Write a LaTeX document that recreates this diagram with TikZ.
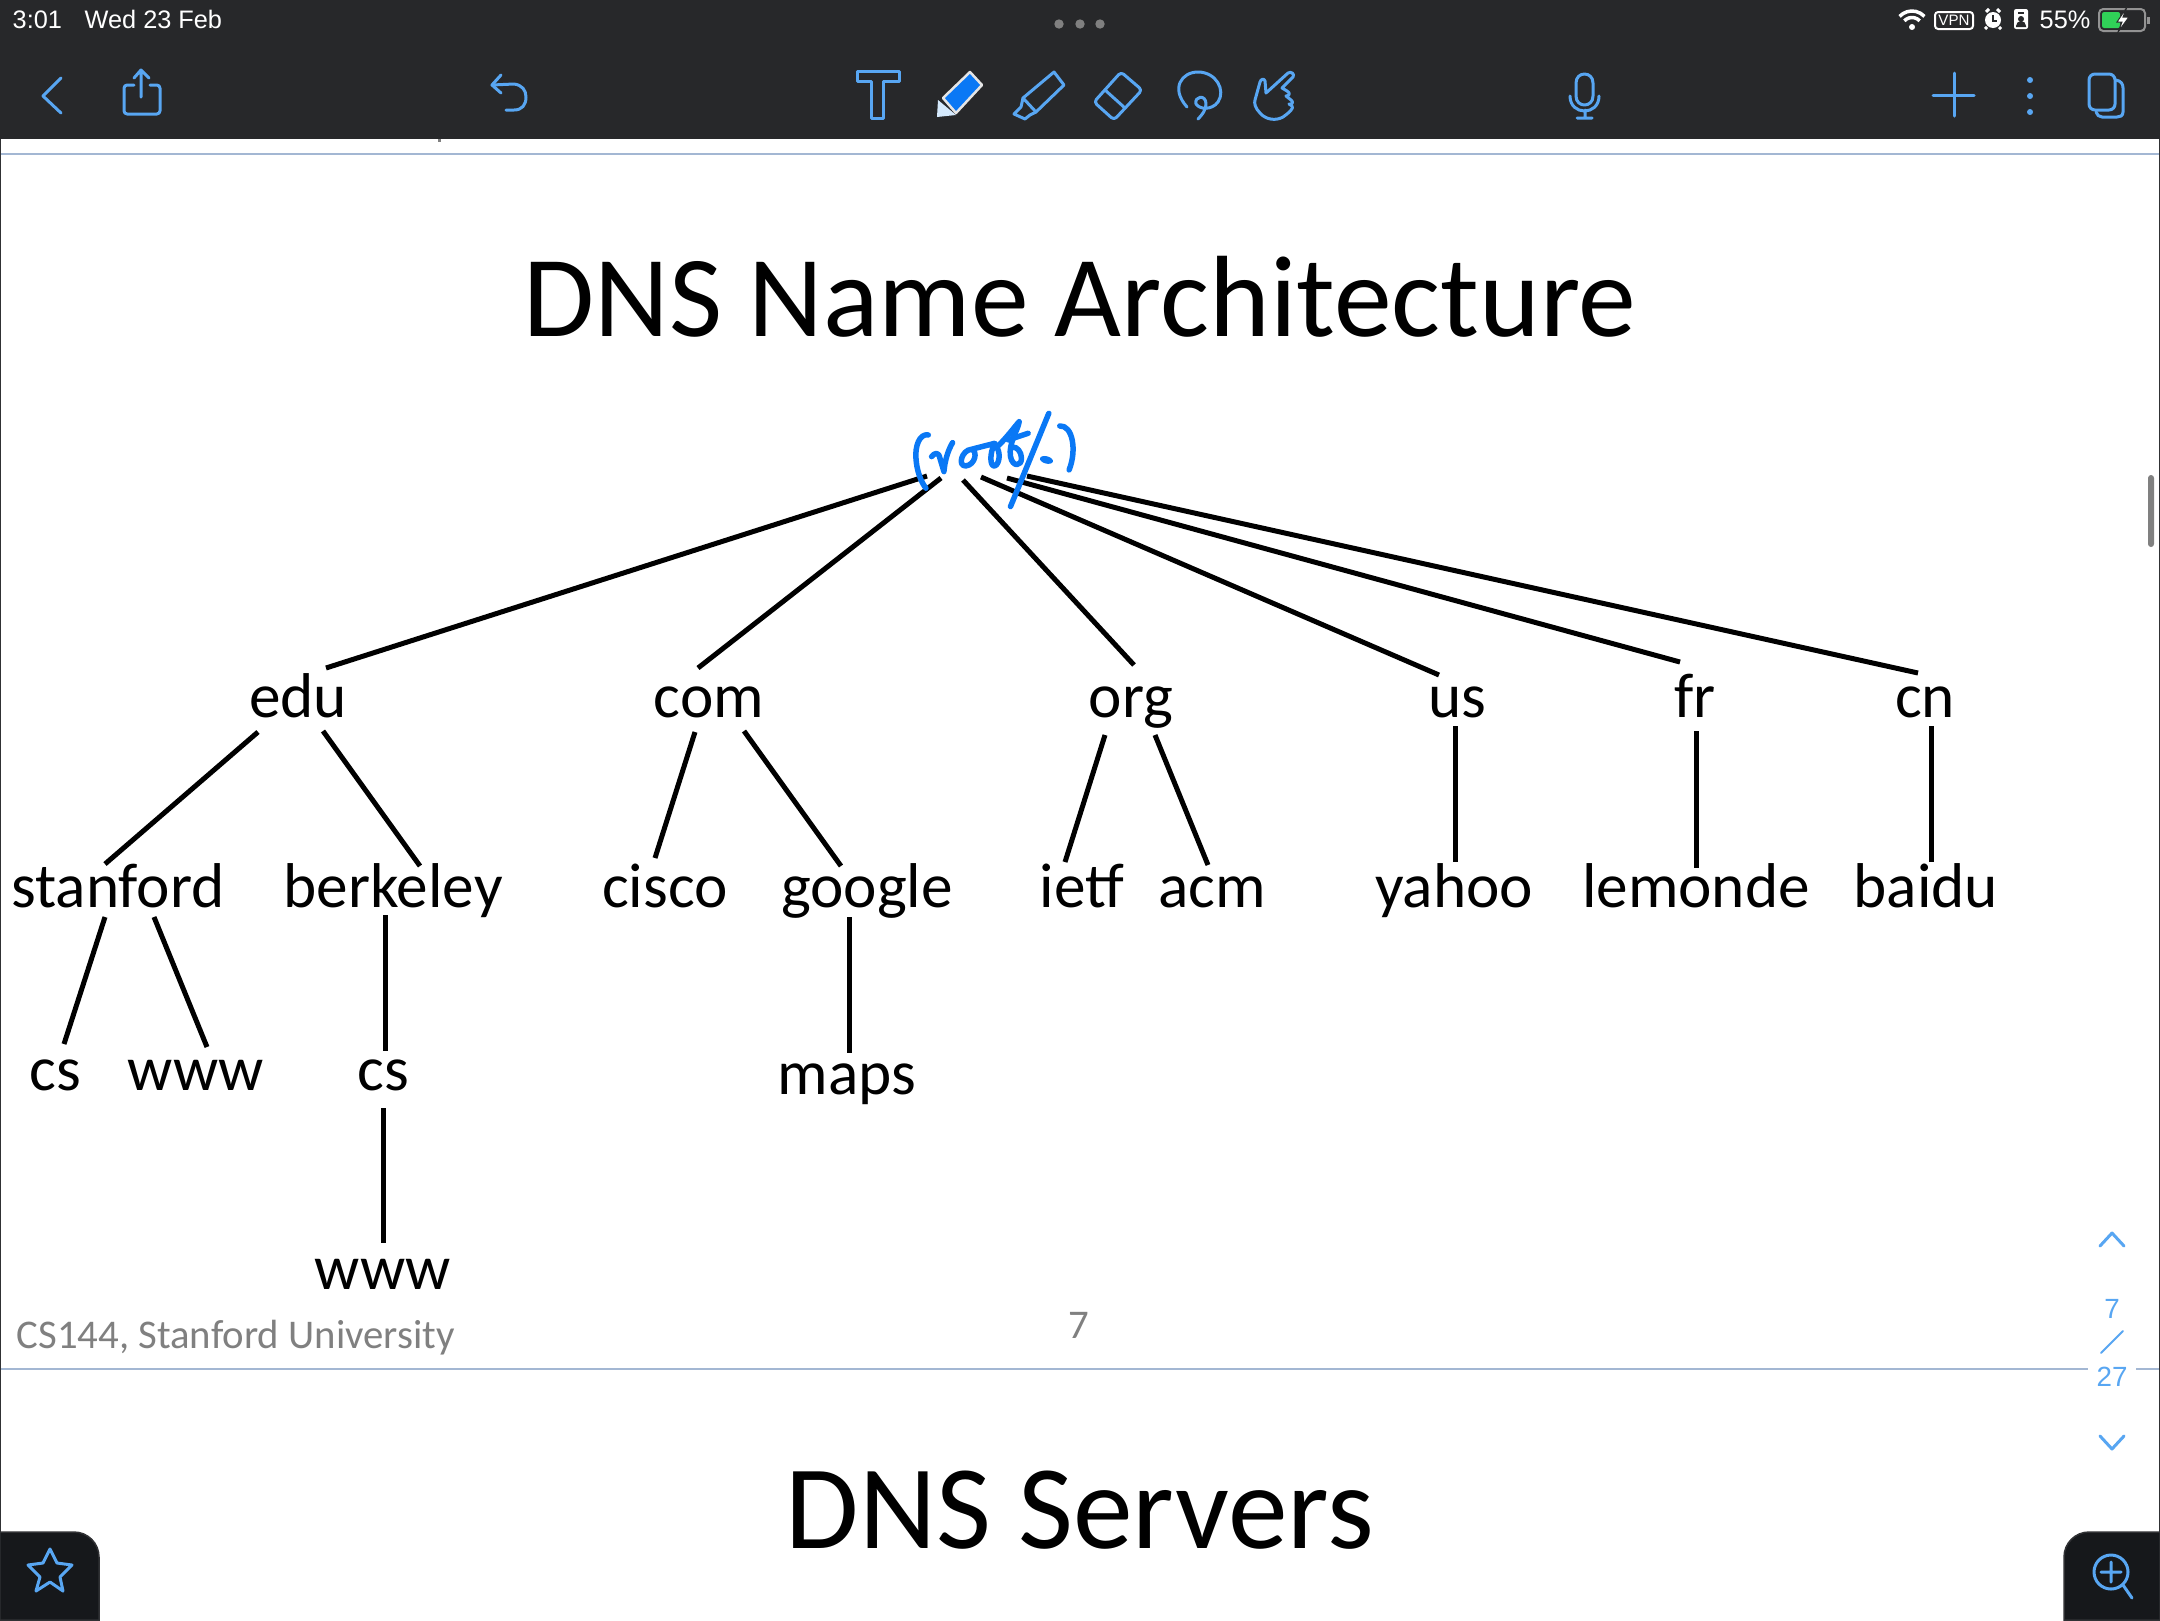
\documentclass[tikz,border=0pt]{standalone}
\usepackage{fontspec}
\setmainfont{Carlito}
\newfontfamily\uifont{Liberation Sans}
\definecolor{barDark}{HTML}{27282A}
\definecolor{panelDark}{HTML}{16181B}
\definecolor{panelEdge}{HTML}{303134}
\definecolor{toolBlue}{HTML}{58A6F2}
\definecolor{inkBlue}{HTML}{0A78F5}
\definecolor{pageRule}{HTML}{A3B7D3}
\definecolor{footGrey}{HTML}{808080}
\definecolor{battGreen}{HTML}{30D158}
\tikzstyle{zone}=[anchor=base,inner sep=0pt,font=\fontsize{18}{22}\selectfont]
\tikzstyle{heading}=[anchor=base,inner sep=0pt,font=\fontsize{32.9}{40}\selectfont]
\tikzstyle{foot}=[anchor=base,inner sep=0pt,text=footGrey,font=\fontsize{11.6}{14}\selectfont]
\tikzstyle{status}=[anchor=base west,inner sep=0pt,text=white,font=\uifont\fontsize{7.2}{9}\selectfont]
\tikzstyle{pageno}=[anchor=base,inner sep=0pt,text=toolBlue,font=\uifont\fontsize{7.9}{9}\selectfont]
\tikzstyle{link}=[draw,black,line width=0.5mm]
\tikzstyle{tool}=[draw=toolBlue,line width=0.3mm,line cap=round,line join=round]
\tikzstyle{ink}=[draw=inkBlue,line width=0.55mm,line cap=round,line join=round]
\begin{document}
\begin{tikzpicture}[x=0.1mm,y=-0.1mm]
	\useasboundingbox (0,0) rectangle (2160,1620);
	\fill[white] (0,0) rectangle (2160,1620);

	% app bars
	\fill[barDark] (0,0) rectangle (2160,139);
	\draw[pageRule,line width=0.2mm] (0,154) -- (2160,154);
	\draw[pageRule,line width=0.2mm] (0,1369) -- (2088,1369);
	\draw[pageRule,line width=0.2mm] (2136,1369) -- (2160,1369);
	\draw[panelEdge,line width=0.15mm] (0.7,139) -- (0.7,1532);
	\draw[panelEdge,line width=0.15mm] (2159.3,139) -- (2159.3,1532);
	\fill[footGrey] (438,139) rectangle (441,142);
	\fill[footGrey] (2148,478) -- (2148,544) arc[start angle=180,end angle=0,radius=3] -- (2154,478) arc[start angle=0,end angle=-180,radius=3] -- cycle;

	\node[status] (clock) at (12,28) {3:01};
	\node[status] (date) at (84,28) {Wed 23 Feb};
	\foreach \x in {1059,1080,1100}
		\fill[footGrey] (\x,24) circle (4.7);

	% status icons
	\foreach \r in {10.5,17}
		\draw[white,line width=0.35mm] ([shift={(223:\r)}]1912,28) arc[start angle=223,end angle=317,radius=\r];
	\fill[white] (1912,27) circle (3);
	\draw[white,line width=0.2mm,rounded corners=0.9pt] (1935,12) rectangle (1973,29);
	\node[inner sep=0pt,text=white,font=\uifont\fontsize{4.3}{5}\selectfont] (vpn) at (1954,20.5) {VPN};
	\fill[white] (1993,20) circle (8);
	\draw[white,line width=0.3mm] (1986,12) -- (1989,9) (2000,12) -- (1997,9) (1987,27) -- (1985,29) (1999,27) -- (2001,29);
	\draw[barDark,line width=0.2mm] (1993,15) -- (1993,21) -- (1997,21);
	\fill[white,rounded corners=0.6pt] (2014,9) rectangle (2028,29);
	\fill[barDark] (2018,12) rectangle (2024,13.5);
	\fill[barDark] (2021,19) circle (3);
	\fill[barDark] (2016,27) -- (2016,26) arc[start angle=180,end angle=360,radius=5] -- (2026,27) -- cycle;
	\node[status] (charge) at (2039,28) {55\%};
	\draw[footGrey!85,line width=0.2mm,rounded corners=1.2pt] (2099,9) rectangle (2145,31);
	\fill[battGreen,rounded corners=0.6pt] (2102,12) rectangle (2120,28);
	\fill[footGrey!85] (2147,17) rectangle (2150,24);
	\draw[barDark,line width=0.1mm,fill=white] (2127,7) -- (2117,22) -- (2122,22) -- (2118,32) -- (2129,17) -- (2123,17) -- cycle;

	% toolbar
	\path[tool] (61,78) -- (43,96) -- (61,113);
	\path[tool,rounded corners=0.9pt] (134,85) -- (124,85) -- (124,114) -- (160,114) -- (160,85) -- (150,85);
	\path[tool] (141,97) -- (141,70) (134,78) -- (141,70) -- (149,78);
	\path[tool] (501,75) -- (492,85) -- (501,93);
	\path[tool] (492,85) -- (514,84) .. controls (522,85) and (526,90) .. (526,97) .. controls (526,105) and (522,110) .. (514,110) -- (506,110);
	\path[tool] (857,71) -- (899,71) -- (899,81) -- (883,81) -- (883,118) -- (871,118) -- (871,81) -- (857,81) -- cycle;
	\fill[white!75!toolBlue] (938,100) -- (937,117) -- (956,115) -- cycle;
	\draw[white!80!gray,line width=0.25mm,line join=round,fill=inkBlue] (970,72) -- (982,85) -- (956,113) -- (943,98) -- cycle;
	\path[tool] (1054,72) -- (1064,85) -- (1036,112) -- (1023,98) -- cycle;
	\path[tool] (1023,98) -- (1021,107) -- (1014,114) -- (1025,119) -- (1030,115) -- (1036,112);
	\path[tool,rounded corners=1pt] (1121,72) -- (1142,90) -- (1114,120) -- (1094,102) -- cycle;
	\path[tool] (1105,90) -- (1125,108);
	\path[tool] (1187,107) .. controls (1170,88) and (1182,72) .. (1198,72) .. controls (1216,72) and (1226,90) .. (1218,102) .. controls (1212,110) and (1200,110) .. (1196,104) .. controls (1194,96) and (1206,94) .. (1206,104) .. controls (1206,110) and (1202,115) .. (1198,119);
	\path[tool] (1266,93) -- (1288,73) .. controls (1291,71) and (1295,74) .. (1293,77) -- (1282,88) -- (1287,91) .. controls (1291,93) and (1289,96) .. (1286,96) -- (1291,100) .. controls (1294,102) and (1292,105) .. (1289,104) -- (1292,106) .. controls (1294,108) and (1290,112) .. (1283,117) .. controls (1276,121) and (1266,120) .. (1260,113) .. controls (1255,108) and (1254,103) .. (1255,100) -- (1260,82) .. controls (1261,79) and (1264,78) .. (1265,81) -- cycle;
	\path[tool] (1576,83) .. controls (1576,71) and (1593,71) .. (1593,83) -- (1593,96) .. controls (1593,108) and (1576,108) .. (1576,96) -- cycle;
	\path[tool] (1570,96) .. controls (1570,116) and (1599,116) .. (1599,96) (1585,110) -- (1585,118) (1577,118) -- (1592,118);
	\path[tool] (1954,73) -- (1954,116) (1933,95) -- (1974,95);
	\foreach \y in {80,96,112}
		\fill[toolBlue] (2030,\y) circle (3);
	\draw[toolBlue,line width=0.3mm,rounded corners=1.7pt] (2089,74) rectangle (2115,110);
	\path[tool] (2116,80) .. controls (2121,81) and (2123,84) .. (2123,88) -- (2123,112) .. controls (2123,116) and (2120,117) .. (2117,117) -- (2102,117) .. controls (2099,117) and (2097,115) .. (2096,112);

	% slide
	\node[heading] (title) at (1080,336) {DNS Name Architecture};
	\node[zone] (edu) at (298,717) {edu};
	\node[zone] (com) at (709,717) {com};
	\node[zone] (org) at (1131,717) {org};
	\node[zone] (us) at (1457,717) {us};
	\node[zone] (fr) at (1695,717) {fr};
	\node[zone] (cn) at (1925,717) {cn};
	\node[zone] (stanford) at (118,907) {stanford};
	\node[zone] (berkeley) at (393,907) {berkeley};
	\node[zone] (cisco) at (665,907) {cisco};
	\node[zone] (google) at (867,907) {google};
	\node[zone] (ietf) at (1082,907) {ietf};
	\node[zone] (acm) at (1212,907) {acm};
	\node[zone] (yahoo) at (1454,907) {yahoo};
	\node[zone] (lemonde) at (1696,907) {lemonde};
	\node[zone] (baidu) at (1926,907) {baidu};
	\node[zone] (scs) at (55,1090) {cs};
	\node[zone] (swww) at (196,1090) {www};
	\node[zone] (bcs) at (383,1090) {cs};
	\node[zone] (maps) at (847,1094) {maps};
	\node[zone] (bwww) at (383,1289) {www};
	\coordinate (root) at (975,478);

	\path[link] ([shift={(-48,-2)}]root) edge ([shift={(28,-49)}]edu.base);
	\path[link] ([shift={(-34,0)}]root) edge ([shift={(-11,-49)}]com.base);
	\path[link] ([shift={(-12,2)}]root) edge ([shift={(3,-52)}]org.base);
	\path[link] ([shift={(6,-1)}]root) edge ([shift={(-18,-42)}]us.base);
	\path[link] ([shift={(32,0)}]root) edge ([shift={(-15,-55)}]fr.base);
	\path[link] ([shift={(52,-2)}]root) edge ([shift={(-7,-44)}]cn.base);

	\path[link] ([shift={(-40,15)}]edu.base) edge ([shift={(-13,-43)}]stanford.base);
	\path[link] ([shift={(25,14)}]edu.base) edge ([shift={(27,-41)}]berkeley.base);
	\path[link] ([shift={(-13,10)}]stanford.base) edge ([shift={(9,-46)}]scs.base);
	\path[link] ([shift={(36,10)}]stanford.base) edge ([shift={(11,-43)}]swww.base);
	\path[link] ([shift={(-8,8)}]berkeley.base) edge ([shift={(2,-39)}]bcs.base);
	\path[link] ([shift={(0,18)}]bcs.base) edge ([shift={(0,-46)}]bwww.base);

	\path[link] ([shift={(-14,15)}]com.base) edge ([shift={(-10,-49)}]cisco.base);
	\path[link] ([shift={(35,14)}]com.base) edge ([shift={(-26,-41)}]google.base);
	\path[link] ([shift={(-18,10)}]google.base) edge ([shift={(2,-41)}]maps.base);

	\path[link] ([shift={(-26,18)}]org.base) edge ([shift={(-17,-45)}]ietf.base);
	\path[link] ([shift={(24,18)}]org.base) edge ([shift={(-4,-42)}]acm.base);
	\path[link] ([shift={(-2,9)}]us.base) edge ([shift={(1,-45)}]yahoo.base);
	\path[link] ([shift={(1,14)}]fr.base) edge ([shift={(0,-39)}]lemonde.base);
	\path[link] ([shift={(6,9)}]cn.base) edge ([shift={(5,-45)}]baidu.base);

	% hand written root
	\begin{scope}[shift={(880,390)},x=0.0333mm,y=-0.0333mm]
		\path[ink] (145,135) .. controls (118,130) and (105,170) .. (108,205) .. controls (110,240) and (122,275) .. (138,295);
		\path[ink] (155,200) .. controls (165,188) and (176,185) .. (180,205) -- (192,245) .. controls (195,210) and (205,180) .. (218,158);
		\path[ink] (275,178) .. controls (245,180) and (232,230) .. (258,228) .. controls (285,225) and (295,185) .. (275,178) -- (345,160) .. controls (328,190) and (330,232) .. (345,228) .. controls (360,222) and (362,185) .. (350,172) .. controls (375,150) and (405,110) .. (418,95) .. controls (415,120) and (385,160) .. (392,200) .. controls (398,232) and (425,230) .. (425,205) .. controls (425,185) and (410,170) .. (400,172);
		\path[ink] (385,150) -- (445,130);
		\path[ink] (507,70) -- (392,350);
		\fill[inkBlue,rotate around={-15:(500,210)}] (500,210) ellipse (20 and 11);
		\path[ink] (540,108) .. controls (578,105) and (592,180) .. (568,240);
	\end{scope}

	% footer
	\node[foot,anchor=base west] (course) at (16,1348) {CS144, Stanford University};
	\node[foot] (page) at (1079,1338) {7};
	\node[heading,font=\fontsize{34}{40}\selectfont] (next) at (1080,1548) {DNS Servers};

	% page navigator
	\path[tool] (2100,1246) -- (2112,1233) -- (2124,1246);
	\node[pageno] (current) at (2112,1318) {7};
	\path[tool,line width=0.2mm] (2101,1353) -- (2123,1331);
	\node[pageno] (total) at (2112,1386) {27};
	\path[tool] (2100,1436) -- (2112,1449) -- (2124,1436);

	% corner panels
	\draw[panelEdge,fill=panelDark,line width=0.15mm] (0,1532) -- (74,1532) arc[start angle=-90,end angle=0,radius=25] -- (99,1620) -- (0,1620) -- cycle;
	\draw[panelEdge,fill=panelDark,line width=0.15mm] (2160,1532) -- (2089,1532) arc[start angle=-90,end angle=-180,radius=25] -- (2064,1620) -- (2160,1620) -- cycle;
	\path[tool] (50,1549) -- (57,1563) -- (72,1565) -- (60,1577) -- (63,1591) -- (50,1582) -- (36,1591) -- (40,1577) -- (28,1565) -- (43,1563) -- cycle;
	\path[tool] (2111,1572) circle (17);
	\path[tool] (2101,1572) -- (2121,1572) (2111,1562) -- (2111,1582) (2123,1585) -- (2132,1598);
\end{tikzpicture}
\end{document}
